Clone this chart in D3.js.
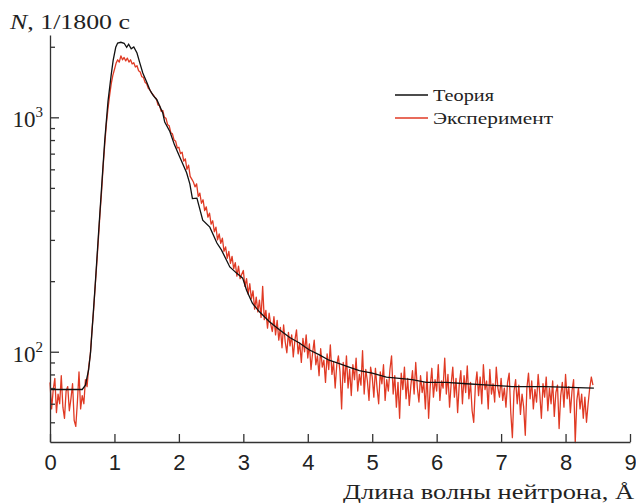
<!DOCTYPE html>
<html lang="ru">
<head>
<meta charset="UTF-8" />
<title>Спектр нейтронов</title>
<script src="https://d3js.org/d3.v7.min.js"></script>
<style>
  body { margin: 0; background: #fff; }
  svg { font-family: "Liberation Serif", "Times New Roman", serif; }
  .axis path, .axis line { stroke: #333; stroke-width: 1.3; }
  .axis text { font-size: 22px; fill: #222; }
</style>
</head>
<body>
<svg id="chart" width="636" height="503"></svg>
<script>
// теория: длина волны (Å) и отсчёты
const theoryX = [0, 0.25, 0.5, 0.55, 0.6, 0.63, 0.7, 0.75, 0.8, 0.85, 0.9, 0.95, 0.98, 1.02, 1.05,
  1.1, 1.15, 1.19, 1.22, 1.26, 1.3, 1.35, 1.39, 1.44, 1.5, 1.55, 1.6, 1.66, 1.75, 1.78, 1.86,
  1.93, 2.01, 2.12, 2.17, 2.21, 2.28, 2.37, 2.48, 2.59, 2.66, 2.79, 2.89, 2.99, 3.05, 3.14,
  3.25, 3.41, 3.56, 3.72, 3.87, 4.02, 4.18, 4.33, 4.49, 4.64, 4.8, 5.0, 5.22, 5.42, 5.62,
  5.84, 6.15, 6.46, 6.81, 7.17, 7.69, 8.44];
const theoryN = [69, 69, 69, 72, 84, 100, 190, 310, 500, 800, 1170, 1520, 1750, 1990, 2075,
  2090, 2070, 1990, 2050, 1960, 1995, 1880, 1720, 1545, 1415, 1307, 1240, 1186, 1043, 955, 870,
  765, 680, 580, 520, 450, 452, 364, 340, 291, 272, 230, 217, 206, 183, 161,
  148, 134, 124, 115, 109, 102, 97, 92, 89, 86, 83, 81, 78, 77, 76,
  74, 74, 73, 72, 71, 71, 70];

// эксперимент: шаг 0.025 Å от 0
const expStep = 0.025;
const expN = [
  74, 57, 69, 77, 55, 66, 60, 79, 58, 52, 68, 71, 56, 63, 73, 51, 48, 61, 82, 57,
  65, 60, 76, 71, 86, 97, 122, 148, 188, 236, 300, 385, 480, 620, 770, 940, 1090, 1240, 1390, 1510,
  1600, 1700, 1760, 1720, 1830, 1760, 1800, 1740, 1790, 1720, 1760, 1690, 1710, 1640, 1660, 1580, 1560, 1490, 1480, 1410,
  1390, 1330, 1310, 1270, 1250, 1220, 1200, 1130, 1120, 1060, 1070, 1000, 990, 930, 920, 860, 850, 800, 790, 740,
  745, 700, 710, 650, 665, 600, 625, 560, 545, 530, 505, 520, 460, 475, 430, 445, 400, 415, 375, 390,
  350, 362, 325, 340, 300, 318, 290, 305, 268, 280, 250, 268, 238, 255, 226, 240, 210, 232, 205, 214,
  222, 190, 205, 176, 195, 168, 182, 152, 171, 148, 166, 140, 190, 137, 150, 126, 146, 131, 122, 141,
  118, 136, 112, 127, 104, 130, 110, 99, 121, 106, 118, 95, 112, 124, 98, 109, 90, 114, 100, 118,
  94, 108, 84, 99, 112, 88, 96, 79, 103, 86, 92, 74, 98, 84, 107, 80, 90, 70, 88, 96,
  82, 57, 90, 74, 96, 70, 84, 65, 88, 76, 94, 68, 80, 72, 101, 66, 84, 75, 62, 86,
  78, 64, 85, 70, 60, 82, 73, 88, 62, 76, 68, 84, 96, 66, 79, 58, 74, 52, 81, 69,
  86, 63, 77, 59, 72, 83, 66, 90, 70, 61, 79, 67, 74, 57, 82, 52, 71, 85, 64, 76,
  68, 88, 62, 75, 70, 94, 66, 80, 58, 73, 86, 64, 77, 55, 72, 83, 60, 79, 67, 87,
  63, 74, 56, 50, 71, 82, 65, 78, 60, 88, 69, 75, 57, 84, 66, 73, 61, 86, 70, 64,
  77, 62, 70, 58, 74, 81, 55, 43, 68, 76, 60, 72, 54, 66, 58, 44, 70, 81, 63, 75,
  57, 69, 61, 80, 66, 52, 73, 64, 78, 56, 70, 60, 75, 53, 67, 72, 47, 65, 74, 58,
  80, 63, 71, 55, 68, 76, 41, 62, 70, 57, 66, 52, 64, 50, 60, 70, 78, 72
];

const xTicks = [0, 1, 2, 3, 4, 5, 6, 7, 8, 9];
const yMajor = [100, 1000];
const yMinor = [50, 60, 70, 80, 90, 200, 300, 400, 500, 600, 700, 800, 900, 2000];
const yMajorLabels = [{ base: "10", exp: "2" }, { base: "10", exp: "3" }];

const svg = d3.select("#chart");
const plotL = 50, plotR = 630, plotT = 35, plotB = 442;

const x = d3.scaleLinear().domain([0, 9]).range([plotL, plotR]);
const y = d3.scaleLog().domain([41.2, 2245]).range([plotB, plotT]);

const line = d3.line().x(d => x(d[0])).y(d => y(d[1]));

const expData = expN.map((v, i) => [i * expStep, v]);
const theoryData = theoryX.map((v, i) => [v, theoryN[i]]);

svg.append("path")
  .datum(expData)
  .attr("fill", "none")
  .attr("stroke", "#e03a24")
  .attr("stroke-width", 1.3)
  .attr("stroke-linejoin", "round")
  .attr("d", line);

svg.append("path")
  .datum(theoryData)
  .attr("fill", "none")
  .attr("stroke", "#111")
  .attr("stroke-width", 1.3)
  .attr("d", line);

// оси
svg.append("g")
  .attr("class", "axis")
  .attr("transform", `translate(0,${plotB})`)
  .call(d3.axisBottom(x).tickValues(xTicks).tickSize(-8).tickSizeOuter(0).tickPadding(12));

svg.append("g")
  .attr("class", "axis")
  .attr("transform", `translate(${plotL},0)`)
  .call(d3.axisLeft(y).tickValues(yMajor).tickSize(-9).tickSizeOuter(0).tickFormat(""));

svg.append("g")
  .attr("class", "axis")
  .attr("transform", `translate(${plotL},0)`)
  .call(d3.axisLeft(y).tickValues(yMinor).tickSize(-5).tickSizeOuter(0).tickFormat(""))
  .select(".domain").remove();

svg.selectAll(".ylab")
  .data(yMajorLabels)
  .join("text")
  .attr("class", "ylab")
  .attr("x", 43)
  .attr("y", (d, i) => y(yMajor[i]) + 10)
  .attr("text-anchor", "end")
  .attr("font-size", 23)
  .attr("fill", "#222")
  .call(t => {
    t.append("tspan").text(d => d.base);
    t.append("tspan").attr("dy", -10).attr("font-size", 15).text(d => d.exp);
  });

// подписи осей
const yTitle = svg.append("text")
  .attr("x", 10).attr("y", 29)
  .attr("font-size", 22).attr("fill", "#222")
  .attr("textLength", 120).attr("lengthAdjust", "spacingAndGlyphs");
yTitle.append("tspan").attr("font-style", "italic").text("N");
yTitle.append("tspan").text(", 1/1800 с");

svg.append("text")
  .attr("x", 343).attr("y", 499)
  .attr("font-size", 22).attr("fill", "#222")
  .attr("textLength", 291).attr("lengthAdjust", "spacingAndGlyphs")
  .text("Длина волны нейтрона, Å");

// легенда
const legend = [
  { name: "Теория", color: "#111", w: 61 },
  { name: "Эксперимент", color: "#e03a24", w: 120 }
];
const lg = svg.append("g").attr("transform", "translate(395,95)");
lg.selectAll("line")
  .data(legend)
  .join("line")
  .attr("x1", 0).attr("x2", 33)
  .attr("y1", (d, i) => i * 23).attr("y2", (d, i) => i * 23)
  .attr("stroke", d => d.color).attr("stroke-width", 1.3);
lg.selectAll("text")
  .data(legend)
  .join("text")
  .attr("x", 38)
  .attr("y", (d, i) => i * 23 + 6)
  .attr("font-size", 17).attr("fill", "#222")
  .attr("textLength", d => d.w).attr("lengthAdjust", "spacingAndGlyphs")
  .text(d => d.name);
</script>
</body>
</html>
